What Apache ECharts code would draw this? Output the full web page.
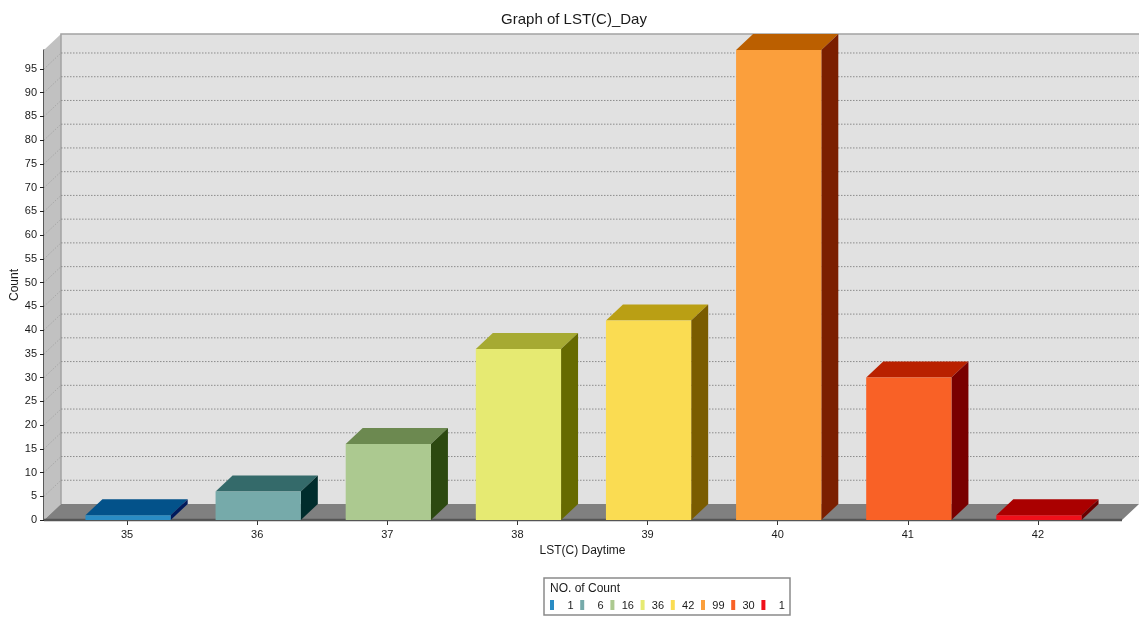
<!DOCTYPE html>
<html>
<head>
<meta charset="utf-8">
<style>html,body{margin:0;padding:0;background:#fff}#chart{width:1141px;height:618px}</style>
<script src="https://cdn.jsdelivr.net/npm/echarts@6/dist/echarts.min.js"></script>
</head>
<body>
<div id="chart"></div>
<script>
// LST(C) daytime histogram, drawn as a pseudo-3D bar chart
const temperatures = ['35', '36', '37', '38', '39', '40', '41', '42'];
const counts = [1, 6, 16, 36, 42, 99, 30, 1];
const yTickValues = [0, 5, 10, 15, 20, 25, 30, 35, 40, 45, 50, 55, 60, 65, 70, 75, 80, 85, 90, 95];

// Face colours per bar
const frontColors = ['#2a8cc4', '#76aaaa', '#acc990', '#e6ea72', '#fadc52', '#fb9f3c', '#f96126', '#f0101a'];
const topColors = ['#03528a', '#346a6a', '#6c8950', '#a6aa32', '#ba9f14', '#bb5f00', '#b92100', '#aa0000'];
const sideColors = ['#001a5c', '#002c2c', '#2c4910', '#666a00', '#7a5c00', '#7b1f00', '#790000', '#6a0000'];

// Oblique projection: how far the back plane sits from the front plane
const DEPTH_X = 17;
const DEPTH_Y = 16;
const AXIS_OFFSET = 18;   // y axis sits this far left of the first category band
const RIGHT_EXTRA = 19;   // floor continues past the last band
const TEXT_COLOR = '#1a1a1a';
const FONT = '"Liberation Sans", Arial, sans-serif';

function poly(points, fill) {
  return { type: 'polygon', shape: { points }, style: { fill, stroke: null } };
}

// Side wall, back wall, floor and their gridlines
function renderRoom(params, api) {
  const cs = params.coordSys;
  const x0 = cs.x - AXIS_OFFSET;
  const x1 = cs.x + cs.width + RIGHT_EXTRA;
  const yTop = cs.y;
  const yBase = cs.y + cs.height;
  const children = [
    poly([[x0, yBase], [x0 + DEPTH_X, yBase - DEPTH_Y], [x0 + DEPTH_X, yTop - DEPTH_Y], [x0, yTop]], '#c1c1c1'),
    poly([[x0 + DEPTH_X, yTop - DEPTH_Y], [x1 + DEPTH_X, yTop - DEPTH_Y], [x1 + DEPTH_X, yBase - DEPTH_Y], [x0 + DEPTH_X, yBase - DEPTH_Y]], '#e1e1e1'),
    poly([[x0, yBase], [x0 + DEPTH_X, yBase - DEPTH_Y], [x1 + DEPTH_X, yBase - DEPTH_Y], [x1, yBase]], '#808080'),
    { type: 'polyline',
      shape: { points: [[x0 + DEPTH_X, yBase - DEPTH_Y], [x0 + DEPTH_X, yTop - DEPTH_Y], [x1 + DEPTH_X, yTop - DEPTH_Y]] },
      style: { stroke: '#a2a2a2', lineWidth: 1.5, fill: null } },
    { type: 'line', shape: { x1: x0, y1: yBase, x2: x1, y2: yBase },
      style: { stroke: '#555555', lineWidth: 2.5 } }
  ];
  yTickValues.slice(1).forEach(v => {
    const y = api.coord([0, v])[1];
    const dash = { lineDash: [1.5, 1.5], lineWidth: 1 };
    children.push({ type: 'line', shape: { x1: x0, y1: y, x2: x0 + DEPTH_X, y2: y - DEPTH_Y },
      style: { stroke: '#a8a8a8', ...dash } });
    children.push({ type: 'line', shape: { x1: x0 + DEPTH_X, y1: y - DEPTH_Y, x2: x1 + DEPTH_X, y2: y - DEPTH_Y },
      style: { stroke: '#8c8c8c', ...dash } });
  });
  return { type: 'group', children };
}

// One box per temperature: top, side and front faces
function renderBox(params, api) {
  const i = api.value(0);
  const top = api.coord([i, api.value(1)]);
  const base = api.coord([i, 0]);
  const w = api.size([1, 0])[0] * 0.655;
  const l = top[0] + 1 - w / 2;
  const r = l + w;
  const t = top[1];
  const b = base[1];
  return {
    type: 'group',
    children: [
      poly([[l, t], [l + DEPTH_X, t - DEPTH_Y], [r + DEPTH_X, t - DEPTH_Y], [r, t]], topColors[i]),
      poly([[r, t], [r + DEPTH_X, t - DEPTH_Y], [r + DEPTH_X, b - DEPTH_Y], [r, b]], sideColors[i]),
      poly([[l, t], [r, t], [r, b], [l, b]], frontColors[i])
    ]
  };
}

// Legend box with one swatch and count per bar
const legendLeft = 544, legendTop = 578, legendStep = 30.2;
const legendItems = [
  { type: 'rect', shape: { x: legendLeft, y: legendTop, width: 246, height: 37 },
    style: { fill: '#ffffff', stroke: '#8a8a8a', lineWidth: 1.5 } },
  { type: 'text', x: legendLeft + 6, y: legendTop + 5,
    style: { text: 'NO. of Count', font: '12px ' + FONT, fill: TEXT_COLOR } }
];
counts.forEach((c, i) => {
  const sx = legendLeft + 6 + i * legendStep;
  legendItems.push({ type: 'rect', shape: { x: sx, y: legendTop + 22, width: 4, height: 10 },
    style: { fill: frontColors[i] } });
  legendItems.push({ type: 'text', x: sx + 23.5, y: legendTop + 22,
    style: { text: String(c), font: '11px ' + FONT, fill: TEXT_COLOR, align: 'right' } });
});

const option = {
  animation: false,
  backgroundColor: '#ffffff',
  textStyle: { fontFamily: FONT },
  title: {
    text: 'Graph of LST(C)_Day',
    left: 569, top: 7, textAlign: 'center',
    textStyle: { fontSize: 15, fontWeight: 'normal', color: TEXT_COLOR, fontFamily: FONT, lineHeight: 16 }
  },
  grid: { left: 62, width: 1041, top: 50, height: 470, outerBoundsMode: 'none' },
  xAxis: {
    type: 'category',
    data: temperatures,
    name: 'LST(C) Daytime',
    nameLocation: 'middle',
    nameGap: 22,
    nameTextStyle: { fontSize: 12, color: TEXT_COLOR },
    axisLine: { show: false },
    axisTick: { show: true, alignWithLabel: true, length: 5, lineStyle: { color: '#333333' } },
    axisLabel: { fontSize: 11, color: TEXT_COLOR, margin: 9 }
  },
  yAxis: {
    type: 'value',
    min: 0,
    max: 99,
    offset: AXIS_OFFSET,
    name: 'Count',
    nameLocation: 'middle',
    nameMoveOverlap: false,
    nameGap: 23,
    nameTextStyle: { fontSize: 12, color: TEXT_COLOR },
    splitLine: { show: false },
    axisLine: { show: true, lineStyle: { color: '#222222', width: 1.5 } },
    axisTick: { show: true, length: 4, customValues: yTickValues, lineStyle: { color: '#222222' } },
    axisLabel: { fontSize: 11, color: TEXT_COLOR, margin: 7, customValues: yTickValues }
  },
  graphic: { elements: legendItems },
  series: [
    { type: 'custom', renderItem: renderRoom, data: [[0, 0]], z: 1, silent: true,
      encode: { x: 0, y: 1 } },
    { type: 'custom', renderItem: renderBox, data: counts.map((v, i) => [i, v]), z: 2,
      encode: { x: 0, y: 1 } }
  ]
};

echarts.init(document.getElementById('chart')).setOption(option);
</script>
</body>
</html>
